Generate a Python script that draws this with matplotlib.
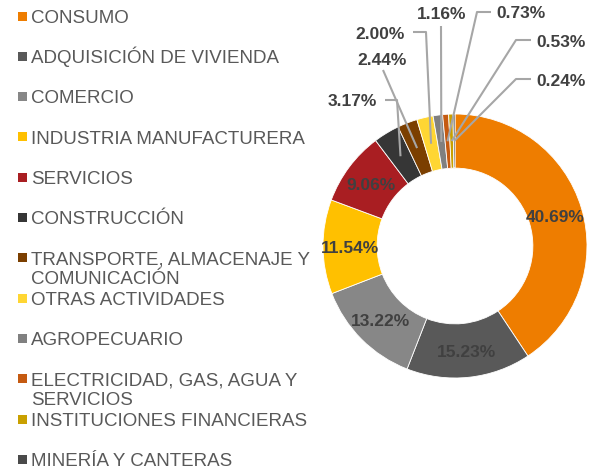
import numpy as np
import matplotlib
matplotlib.use("Agg")
import matplotlib.pyplot as plt
from matplotlib.patches import Rectangle

categories = ["CONSUMO", "ADQUISICIÓN DE VIVIENDA", "COMERCIO", "INDUSTRIA MANUFACTURERA",
              "SERVICIOS", "CONSTRUCCIÓN", "TRANSPORTE, ALMACENAJE Y\nCOMUNICACIÓN",
              "OTRAS ACTIVIDADES", "AGROPECUARIO", "ELECTRICIDAD, GAS, AGUA Y\nSERVICIOS",
              "INSTITUCIONES FINANCIERAS", "MINERÍA Y CANTERAS"]
values = [40.69, 15.23, 13.22, 11.54, 9.06, 3.17, 2.44, 2.00, 1.16, 0.73, 0.53, 0.24]
colors = ["#EE7D00", "#595959", "#878787", "#FFC000", "#A91E22", "#363636", "#7B3F00",
          "#FFD633", "#808080", "#C55A11", "#C9A000", "#4A4A4A"]

plt.rcParams['font.family'] = ['Liberation Sans', 'DejaVu Sans']

W, H = 595, 470
fig = plt.figure(figsize=(W / 100, H / 100), dpi=100)
ax = fig.add_axes([0, 0, 1, 1])

def Y(y):
    return H - y

cx, cy, R = 455, 246, 132
wedges, _ = ax.pie(values, colors=colors, startangle=90, counterclock=False,
                   radius=R, center=(cx, Y(cy)),
                   wedgeprops=dict(width=R * 0.41, edgecolor="white", linewidth=0.6))
ax.set_xlim(0, W)
ax.set_ylim(0, H)
ax.set_aspect('equal')
ax.axis('off')

lab_color = "#404040"
line_color = "#A6A6A6"
r_lab = 105
pfs = 12.5

# outside label layout: text center, elbow path start points (pixels)
outside = {
    5: ((352, 100), [(385, 100), (397, 100)]),
    6: ((382, 59), [(383, 70)]),
    7: ((380, 33), [(413, 32), (426, 32)]),
    8: ((442, 13), [(441, 26)]),
    9: ((521, 12), [(491, 12), (477, 12)]),
    10: ((561, 41), [(531, 40), (516, 40)]),
    11: ((561, 80), [(531, 79), (516, 79)]),
}

for i, w in enumerate(wedges):
    mid = np.deg2rad((w.theta1 + w.theta2) / 2)
    px = cx + r_lab * np.cos(mid)
    py = Y(cy) + r_lab * np.sin(mid)
    txt = f"{values[i]:.2f}%"
    if i in outside:
        (tx, ty), path = outside[i]
        xs = [p[0] for p in path] + [px]
        ys = [Y(p[1]) for p in path] + [py]
        ax.plot(xs, ys, color=line_color, lw=1.5, solid_capstyle='butt', zorder=3)
        ax.text(tx, Y(ty + 6.3), txt, ha='center', va='baseline', fontsize=pfs,
                fontweight='bold', color=lab_color)
    else:
        ax.text(px, py - 6.3, txt, ha='center', va='baseline', fontsize=pfs,
                fontweight='bold', color=lab_color, zorder=4)

# legend
leg_y0, leg_dy = 16, 40.3
for i, (cat, col) in enumerate(zip(categories, colors)):
    y = leg_y0 + i * leg_dy
    ax.add_patch(Rectangle((17.5, Y(y) - 4.5), 9, 9, facecolor=col, edgecolor='none'))
    for k, line in enumerate(cat.split("\n")):
        ax.text(31, Y(y + k * 20 + 6.6), line, ha='left', va='baseline', fontsize=13.5,
                color="#595959")

fig.savefig("out.png", dpi=100, facecolor="white")
